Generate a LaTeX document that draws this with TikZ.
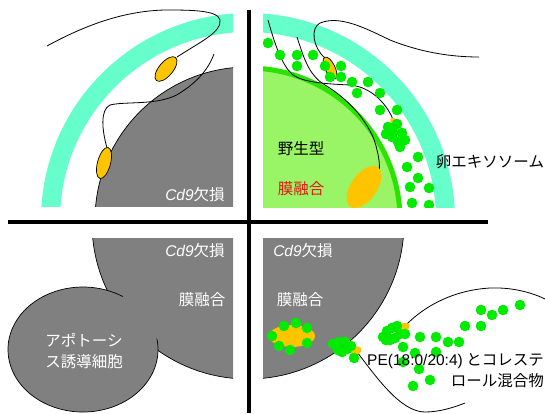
\documentclass[tikz,border=0pt]{standalone}
\usepackage{fontspec}
\setmainfont{Noto Sans CJK JP}
\newfontfamily\latinfont{Liberation Sans}

\definecolor{zonacyan}{RGB}{102,255,204}
\definecolor{ooplasm}{RGB}{153,245,102}
\definecolor{rimgreen}{RGB}{40,228,0}
\definecolor{vesiclegreen}{RGB}{0,235,0}
\definecolor{headorange}{RGB}{255,196,0}
\definecolor{cellgray}{RGB}{128,128,128}
\definecolor{fusered}{RGB}{230,20,20}

\newcommand{\cdko}{{\latinfont\itshape Cd9}欠損}
\newcommand{\vesicles}[1]{\foreach \p in {#1} \fill[vesiclegreen] \p circle (5.3);}

\begin{document}
\begin{tikzpicture}[x=1pt, y=-1pt,
    txt/.style = {font=\fontsize{15.5}{21}\selectfont, inner sep=0pt},
    flagellum/.style = {line width=0.8pt},
    spermhead/.style = {fill=headorange, draw=black, line width=0.7pt},
    zona/.style = {draw=zonacyan, line width=19pt}]
  \useasboundingbox (0,0) rectangle (545,413);

  % top left: Cd9 knockout egg, no fusion
  \begin{scope}
    \clip (0,0) rectangle (233,206);
    \draw[zona] (248,220) circle (197.5);
    \filldraw[fill=cellgray, draw=black, line width=0.7pt] (248,220) circle (153);
    \draw[flagellum] (177,57) .. controls (200,42) and (222,32) .. (220,20)
      .. controls (218,10) and (190,10) .. (165,10)
      .. controls (120,11) and (80,28) .. (47,46);
    \draw[flagellum] (107,148) .. controls (102,130) and (100,110) .. (110,105)
      .. controls (125,101) and (160,106) .. (180,93)
      .. controls (197,82) and (208,70) .. (214,54);
    \draw[spermhead, rotate around={50:(166,69)}] (166,69) ellipse [x radius=15, y radius=7];
    \draw[spermhead, rotate around={75:(104,163)}] (104,163) ellipse [x radius=16, y radius=6.5];
  \end{scope}
  \node[txt, text=white] (tlko) at (195,195) {\cdko};

  % top right: wild type egg with exosomes
  \begin{scope}
    \clip (263,0) rectangle (545,207);
    \draw[zona] (248,220) circle (197.5);
    \filldraw[fill=ooplasm, draw=rimgreen, line width=5pt] (248,220) circle (152);
    \draw[flagellum] (268,20) .. controls (275,45) and (282,65) .. (292,74)
      .. controls (302,83) and (330,84) .. (350,85)
      .. controls (372,87) and (388,105) .. (394,122);
    \draw[flagellum] (297,37) .. controls (303,55) and (308,75) .. (325,85)
      .. controls (350,100) and (372,125) .. (377,150)
      .. controls (380,162) and (380,170) .. (378,176);
    \draw[flagellum] (325,58) .. controls (313,48) and (310,28) .. (320,23)
      .. controls (340,15) and (365,28) .. (390,40)
      .. controls (420,52) and (450,57) .. (479,57);
    \draw[spermhead, rotate around={116:(330,68)}] (330,68) ellipse [x radius=12, y radius=5];
    \fill[headorange, rotate around={-60:(395,124)}] (395,124) ellipse [x radius=7, y radius=3.5];
    \fill[headorange, rotate around={55:(364,187)}] (364,187) ellipse [x radius=24, y radius=13];
    \vesicles{(268,43),(280,55),(297,55),(297,66),(313,55),(325,66),(341,66),(330,77),
      (341,77),(352,82),(368,82),(357,93),(380,93),(380,110),(397,110),
      (388,127),(397,124),(402,133),(392,137),(398,142),(405,140),(400,147),(393,132),(386,134),
      (418,157),(407,167),(418,178),(410,187),(429,188),(412,203),(429,205)}
  \end{scope}
  \node[txt] (wt) at (301,149) {野生型};
  \node[txt, text=fusered] (trfuse) at (301,189) {膜融合};
  \node[txt] (exo) at (490,162) {卵エキソソーム};

  % bottom left: fusion with an apoptotic cell
  \begin{scope}
    \clip (0,238) rectangle (233,413);
    \filldraw[fill=cellgray, draw=black, line width=0.7pt] (248,223) circle (156);
  \end{scope}
  \fill[cellgray] (83,349.5) ellipse [x radius=75, y radius=62.5];
  \draw[line width=0.7pt] (83,349.5) ++(-10:75 and 62.5)
    arc[start angle=-10, end angle=302, x radius=75, y radius=62.5];
  \node[txt, text=white] (blko) at (195,251) {\cdko};
  \node[txt, text=white] (blfuse) at (202,300) {膜融合};
  \node[txt, text=white, align=center] (apo) at (84,351) {アポトーシ\\ス誘導細胞};

  % bottom right: fusion with PE/cholesterol mixture
  \begin{scope}
    \clip (263,238) rectangle (545,413);
    \filldraw[fill=cellgray, draw=black, line width=0.7pt] (248,223) circle (156);
  \end{scope}
  \fill[headorange] (292,336) ellipse [x radius=23, y radius=11];
  \draw[flagellum] (405,326) .. controls (425,305) and (455,290) .. (490,288)
    .. controls (515,287) and (535,294) .. (545,299);
  \draw[flagellum] (357,352) .. controls (375,375) and (400,412) .. (425,412)
    .. controls (440,412) and (455,407) .. (465,403);
  \fill[headorange, rotate around={30:(356,351)}] (356,351) ellipse [x radius=6, y radius=4];
  \fill[headorange, rotate around={20:(404,327)}] (404,327) ellipse [x radius=6, y radius=4];
  \vesicles{(272,336),(284,326),(296,323),(307,328),(307,343),(290,350),(279,346),
    (333,344),(339,342),(345,342),(351,346),(342,352),(354,358),(347,349),(338,350),
    (383,337),(387,331),(392,328),(397,326),(390,340),(395,338),(400,334),(405,334),(386,340),
    (420,337),(436,337),(448,342),(459,342),(403,347),(415,353),(436,352),(403,362),
    (419,369),(413,386),(430,380),(465,326),(481,326),(481,310),(492,315),(503,310),(520,305)}
  \node[txt, text=white] (brko) at (303,251) {\cdko};
  \node[txt, text=white] (brfuse) at (300,300) {膜融合};
  \node[txt, align=right, anchor=east] (mix) at (544,371)
    {{\latinfont PE(18:0/20:4)} とコレステ\\ロール混合物};

  % quadrant dividers
  \draw[line width=4pt] (8,221.5) -- (488,221.5);
  \draw[line width=4pt] (248.5,10) -- (248.5,413);
\end{tikzpicture}
\end{document}
